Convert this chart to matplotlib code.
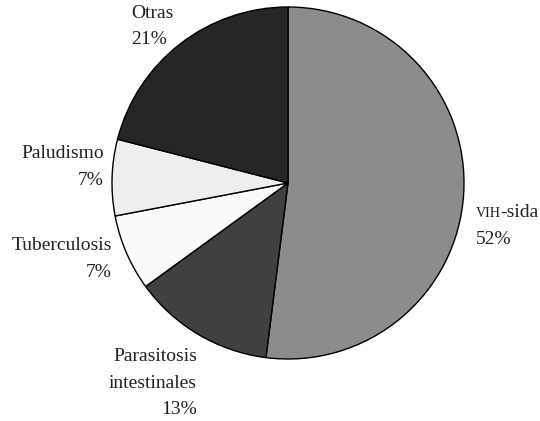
import matplotlib
matplotlib.use("Agg")
import matplotlib.pyplot as plt
from matplotlib.transforms import offset_copy

categories = ["VIH-sida", "Parasitosis\nintestinales", "Tuberculosis", "Paludismo", "Otras"]
values = [52, 13, 7, 7, 21]
colors = ["#8c8c8c", "#404040", "#fafafa", "#eeeeee", "#262626"]

plt.rcParams['font.family'] = ['Liberation Serif', 'DejaVu Serif']

W, H = 540, 421
fig = plt.figure(figsize=(W / 100, H / 100), dpi=100)
cx, cy, r = 288, 183, 176
ax = fig.add_axes([(cx - r) / W, (H - cy - r) / H, 2 * r / W, 2 * r / H])
ax.pie(values, colors=colors, startangle=90, counterclock=False, radius=1,
       wedgeprops=dict(edgecolor="black", linewidth=1.0))
ax.set_xlim(-1, 1)
ax.set_ylim(-1, 1)
ax.set_aspect("equal")
ax.axis("off")

def d(px, py):
    return ((px - cx) / r, (cy - py) / r)

fs = 14
ls = 1.72
col = "#222222"

# VIH-sida (small caps VIH)
x0, y0 = d(476, 217)
t1 = ax.text(x0, y0, "VIH", fontsize=fs * 0.72, ha="left", va="baseline", color=col, clip_on=False)
fig.canvas.draw()
wpx = t1.get_window_extent().width - 1
ax.text(x0, y0, "-sida", fontsize=fs, ha="left", va="baseline", color=col, clip_on=False,
        transform=offset_copy(ax.transData, fig=fig, x=wpx, y=0, units="dots"))
x1, y1 = d(476, 240)
ax.text(x1, y1, f"{values[0]}%", fontsize=fs, ha="left", va="center", color=col, clip_on=False)

# Parasitosis intestinales
x, y = d(197, 383)
ax.text(x, y, f"{categories[1]}\n{values[1]}%", fontsize=fs, ha="right", va="center",
        multialignment="right", linespacing=ls, color=col, clip_on=False)
# Tuberculosis
x, y = d(112, 259)
ax.text(x, y, f"{categories[2]}\n{values[2]}%", fontsize=fs, ha="right", va="center",
        multialignment="right", linespacing=ls, color=col, clip_on=False)
# Paludismo
x, y = d(104, 167)
ax.text(x, y, f"{categories[3]}\n{values[3]}%", fontsize=fs, ha="right", va="center",
        multialignment="right", linespacing=ls, color=col, clip_on=False)
# Otras
x, y = d(131, 26.5)
ax.text(x, y, f"{categories[4]}\n{values[4]}%", fontsize=fs, ha="left", va="center",
        multialignment="left", linespacing=ls, color=col, clip_on=False)

fig.savefig("out.png", dpi=100)
